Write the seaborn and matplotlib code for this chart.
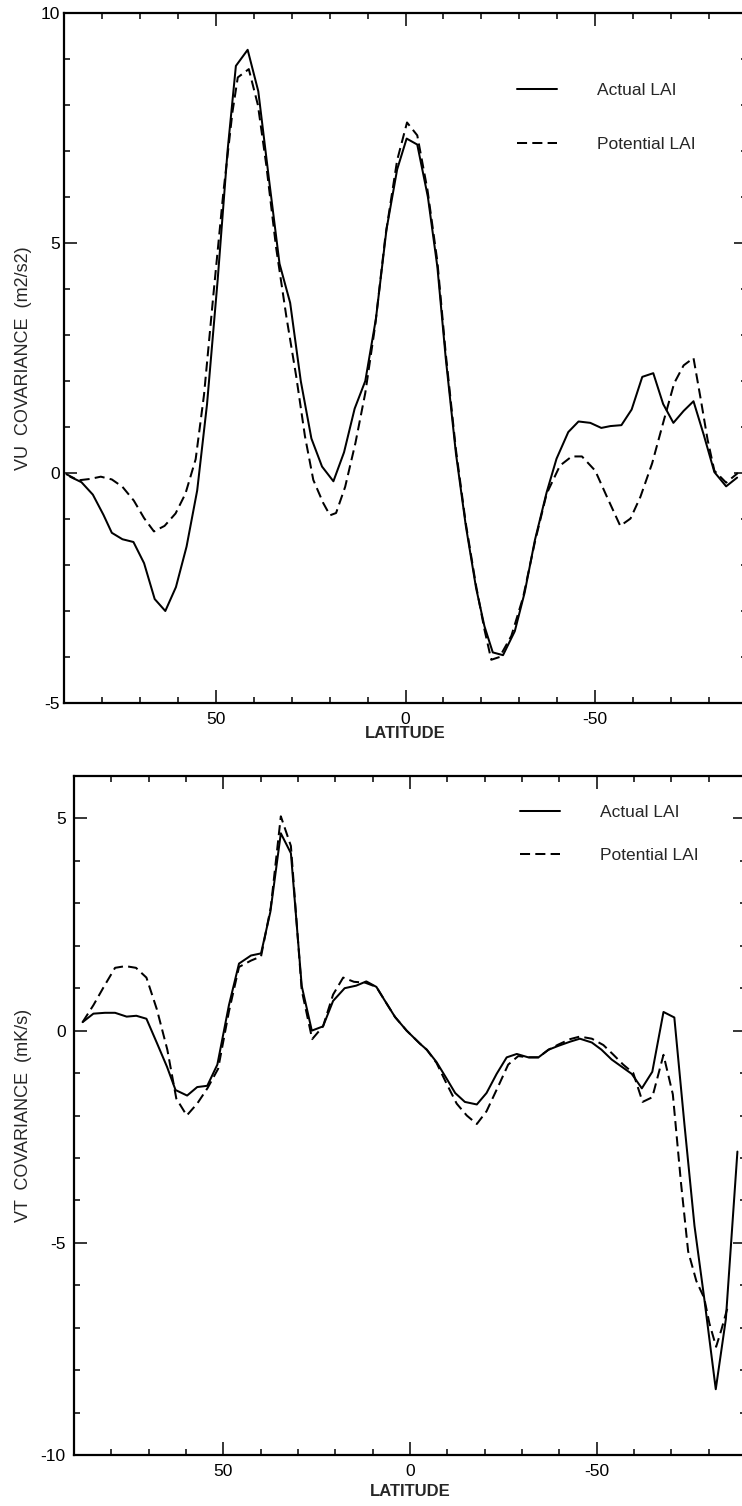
import numpy as np
import pandas as pd
import matplotlib
matplotlib.use("Agg")
import matplotlib.pyplot as plt
from matplotlib.ticker import MultipleLocator
import seaborn as sns

# ---------------- data ----------------
vu_actual_lat = [88.4, 85.4, 82.4, 79.6, 77.4, 74.6, 71.7, 68.9, 66.1, 63.3, 60.5, 57.7,
                 54.9, 52.3, 49.5, 46.9, 44.7, 41.6, 38.8, 36.0, 33.2, 30.4, 27.6, 24.8,
                 22.0, 19.0, 16.2, 13.4, 10.6, 7.8, 5.0, 2.2, -0.3, -3.1, -5.9, -8.4,
                 -10.6, -13.3, -15.9, -18.6, -20.8, -23.0, -25.7, -28.8, -31.4, -34.1,
                 -37.2, -39.8, -42.9, -45.6, -48.7, -51.6, -54.0, -56.9, -59.6, -62.4,
                 -65.3, -67.9, -70.6, -73.3, -75.9, -78.6, -81.4, -84.5, -87.4]
vu_actual = [-0.08, -0.20, -0.47, -0.91, -1.30, -1.44, -1.50, -1.96, -2.74, -3.00, -2.48, -1.60,
             -0.38, 1.50, 4.20, 7.00, 8.85, 9.20, 8.30, 6.40, 4.55, 3.70, 2.00, 0.75,
             0.14, -0.18, 0.45, 1.40, 2.00, 3.35, 5.30, 6.60, 7.27, 7.14, 6.00, 4.48,
             2.50, 0.42, -1.15, -2.50, -3.33, -3.90, -3.96, -3.44, -2.60, -1.46,
             -0.42, 0.31, 0.89, 1.12, 1.09, 0.98, 1.02, 1.04, 1.38, 2.09,
             2.17, 1.50, 1.09, 1.35, 1.56, 0.83, 0.02, -0.29, -0.10]

vu_potential_lat = [89.5, 86.3, 83.2, 80.3, 77.4, 74.6, 71.6, 68.9, 66.3, 63.5, 60.6, 58.0,
                    55.3, 53.1, 50.6, 48.0, 45.6, 44.2, 41.3, 38.9, 36.7, 34.1, 31.4, 28.8,
                    26.5, 24.3, 21.7, 19.9, 18.3, 15.9, 13.2, 10.6, 8.0, 5.3, 2.2, -0.4,
                    -3.1, -5.8, -8.4, -10.6, -13.3, -15.9, -18.6, -20.8, -22.6, -24.8,
                    -27.9, -31.0, -34.1, -37.2, -40.7, -43.8, -46.5, -50.0, -53.1, -56.6,
                    -59.3, -61.9, -65.0, -68.1, -70.8, -73.3, -75.9, -77.9, -79.6, -81.4,
                    -84.5, -87.6]
vu_potential = [-0.02, -0.16, -0.13, -0.08, -0.14, -0.30, -0.60, -0.98, -1.27, -1.15, -0.88, -0.45,
                0.30, 1.70, 3.90, 6.10, 7.85, 8.60, 8.78, 8.00, 6.70, 4.90, 3.40, 2.10,
                0.80, -0.15, -0.65, -0.92, -0.87, -0.30, 0.65, 1.74, 3.20, 5.15, 6.80, 7.62,
                7.34, 6.15, 4.60, 2.60, 0.50, -1.10, -2.45, -3.40, -4.06, -4.00,
                -3.54, -2.70, -1.50, -0.45, 0.16, 0.36, 0.36, 0.05, -0.52, -1.15,
                -0.99, -0.52, 0.21, 1.15, 1.95, 2.34, 2.50, 1.56, 0.73, 0.05,
                -0.21, 0.00]

vt_actual_lat = [87.7, 84.8, 81.7, 79.0, 75.9, 73.3, 70.6, 67.8, 65.1, 62.8, 59.7, 57.0,
                 54.3, 51.6, 48.5, 45.8, 42.6, 39.9, 37.4, 34.6, 31.9, 29.0, 26.3, 23.3,
                 20.6, 17.5, 14.4, 11.7, 9.0, 6.7, 4.0, 0.9, -2.7, -4.5, -7.1, -9.8,
                 -12.1, -14.7, -17.9, -20.5, -23.2, -25.9, -28.6, -31.7, -34.4, -37.1,
                 -39.7, -42.9, -45.5, -48.7, -51.3, -54.0, -56.7, -59.4, -62.1, -64.9,
                 -67.9, -70.8, -73.5, -76.2, -78.8, -81.9, -84.6, -87.7]
vt_actual = [0.20, 0.40, 0.42, 0.42, 0.33, 0.35, 0.28, -0.29, -0.85, -1.40, -1.53, -1.33,
             -1.30, -0.80, 0.60, 1.58, 1.77, 1.82, 2.80, 4.65, 4.18, 1.05, 0.00, 0.10,
             0.70, 1.00, 1.06, 1.16, 1.03, 0.70, 0.32, 0.00, -0.31, -0.45, -0.74, -1.13,
             -1.47, -1.68, -1.74, -1.47, -1.02, -0.63, -0.55, -0.63, -0.63, -0.45,
             -0.36, -0.26, -0.19, -0.28, -0.45, -0.68, -0.85, -1.02, -1.36, -0.97,
             0.44, 0.31, -2.20, -4.60, -6.30, -8.45, -6.80, -2.85]

vt_potential_lat = [87.7, 84.8, 81.9, 79.0, 76.2, 73.4, 70.6, 67.8, 65.0, 62.6, 59.8, 57.0,
                    54.2, 51.4, 48.5, 45.8, 42.6, 39.9, 37.3, 34.6, 31.9, 29.0, 26.2, 23.3,
                    20.6, 17.9, 15.0, 12.0, 9.0, 6.7, 4.0, 0.9, -2.7, -4.5, -7.1, -9.8,
                    -12.5, -15.2, -17.9, -20.5, -23.7, -26.3, -29.0, -31.7, -34.4, -37.1,
                    -39.7, -42.9, -45.5, -48.7, -51.8, -54.5, -57.1, -59.8, -62.3, -64.9,
                    -67.9, -70.4, -72.6, -74.5, -76.7, -78.8, -80.2, -82.0, -83.4, -85.3]
vt_potential = [0.20, 0.60, 1.05, 1.48, 1.52, 1.48, 1.25, 0.50, -0.45, -1.60, -2.00, -1.72,
                -1.35, -0.90, 0.45, 1.50, 1.65, 1.75, 2.90, 5.05, 4.35, 0.95, -0.20, 0.10,
                0.85, 1.25, 1.15, 1.13, 1.03, 0.70, 0.32, 0.00, -0.31, -0.45, -0.76, -1.25,
                -1.72, -2.00, -2.20, -1.90, -1.30, -0.80, -0.60, -0.63, -0.63, -0.45,
                -0.33, -0.20, -0.14, -0.19, -0.34, -0.57, -0.80, -1.00, -1.68, -1.57,
                -0.57, -1.50, -3.60, -5.20, -5.90, -6.30, -6.90, -7.45, -7.05, -6.45]

legend_labels = ["Actual LAI", "Potential LAI"]
vu_ylabel = "VU  COVARIANCE  (m2/s2)"
vt_ylabel = "VT  COVARIANCE  (mK/s)"
x_label = "LATITUDE"

# ---------------- style ----------------
sns.set_style("ticks")
plt.rcParams["font.family"] = ["Liberation Sans", "DejaVu Sans"]
plt.rcParams["axes.unicode_minus"] = False
plt.rcParams["axes.edgecolor"] = "black"
plt.rcParams["xtick.color"] = "black"
plt.rcParams["ytick.color"] = "black"

W, H = 742, 1506
fig = plt.figure(figsize=(W / 100, H / 100), dpi=100)
fig.patch.set_facecolor("white")

dash = (0, (5.0, 2.6))
LW = 1.45
FS = 12.5


def make_frame(d_actual, d_potential):
    df = pd.concat([
        pd.DataFrame({"lat": d_actual[0], "val": d_actual[1], "series": legend_labels[0]}),
        pd.DataFrame({"lat": d_potential[0], "val": d_potential[1], "series": legend_labels[1]}),
    ], ignore_index=True)
    return df


def draw(ax, df, ylim, ylabel, ypad, leg_anchor, leg_spacing, ylab_x, xlab_y):
    for name, ls in zip(legend_labels, ["-", dash]):
        sub = df[df["series"] == name]
        sns.lineplot(data=sub, x="lat", y="val", ax=ax, color="black", lw=LW,
                     linestyle=ls, sort=False, estimator=None, label=name)
    ax.set_xlim(90, -90)
    ax.set_ylim(*ylim)
    ax.xaxis.set_major_locator(MultipleLocator(50))
    ax.xaxis.set_minor_locator(MultipleLocator(10))
    ax.yaxis.set_major_locator(MultipleLocator(5))
    ax.yaxis.set_minor_locator(MultipleLocator(1))
    ax.tick_params(which="both", direction="in", top=True, right=True,
                   width=1.1, color="black")
    ax.tick_params(which="major", length=9.5)
    ax.tick_params(which="minor", length=4.5)
    ax.tick_params(axis="x", which="major", pad=6.5, labelsize=FS)
    ax.tick_params(axis="y", which="major", pad=ypad, labelsize=FS)
    for s in ax.spines.values():
        s.set_linewidth(1.6)
        s.set_color("black")
    ax.set_xlabel(x_label, fontsize=12, fontweight="bold")
    ax.set_ylabel(ylabel, fontsize=13)
    ax.xaxis.set_label_coords(0.5, xlab_y)
    ax.yaxis.set_label_coords(ylab_x, 0.5)
    ax.grid(False)
    leg = ax.legend(loc="upper left", bbox_to_anchor=leg_anchor, frameon=False,
                    borderpad=0, borderaxespad=0, handlelength=2.3,
                    handletextpad=2.3, labelspacing=leg_spacing, fontsize=FS)
    for h in leg.get_lines():
        h.set_linewidth(LW)


# top panel
ax1 = fig.add_axes([64 / W, (H - 703) / H, (747 - 64) / W, 690 / H])
draw(ax1, make_frame((vu_actual_lat, vu_actual), (vu_potential_lat, vu_potential)),
     (-5, 10), vu_ylabel, 3.0, (0.663, 0.899), 2.25, -0.047, -0.034)

# bottom panel
ax2 = fig.add_axes([74 / W, (H - 1455) / H, (746 - 74) / W, 679 / H])
draw(ax2, make_frame((vt_actual_lat, vt_actual), (vt_potential_lat, vt_potential)),
     (-10, 6), vt_ylabel, 6.0, (0.664, 0.957), 1.6, -0.063, -0.042)

fig.savefig("out.png", dpi=100, facecolor="white")
